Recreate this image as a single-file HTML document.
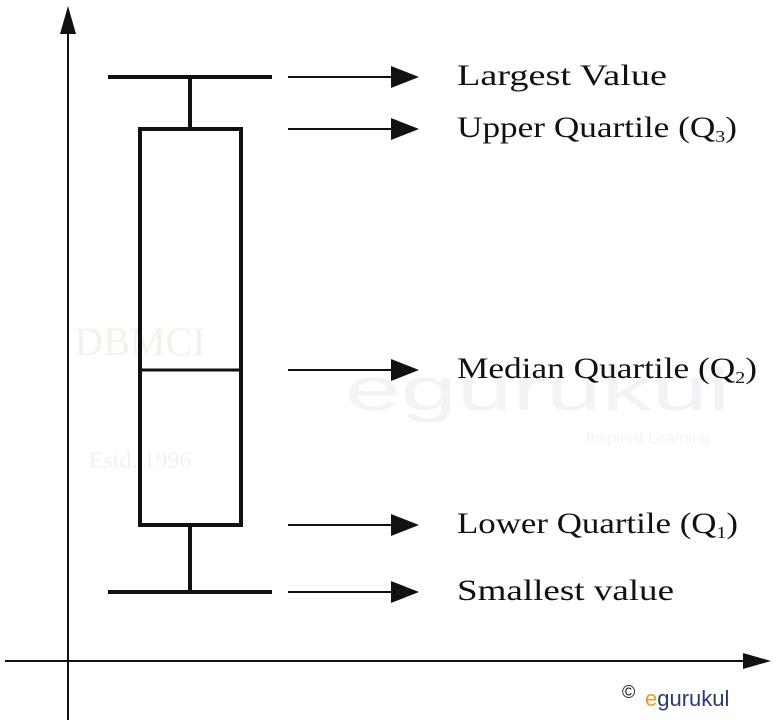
<!DOCTYPE html>
<html><head><meta charset="utf-8"><style>
html,body{margin:0;padding:0;background:#fff;}
svg{display:block;}
text{font-family:"Liberation Serif",serif;fill:#111;}
</style></head><body>
<svg id="chart" width="780" height="720" viewBox="0 0 780 720" xmlns="http://www.w3.org/2000/svg">
<g opacity="0.1">
<text x="140" y="355" font-size="40" text-anchor="middle" style="fill:#a08030">DBMCI</text>
<text x="140" y="468" font-size="24" text-anchor="middle" style="fill:#a08030">Estd. 1996</text>
<text x="345" y="410" font-size="60" textLength="385" lengthAdjust="spacingAndGlyphs" style="font-family:'Liberation Sans',sans-serif;fill:#8090b0">egurukul</text>
<text x="648" y="443" font-size="16" text-anchor="middle" style="font-family:'Liberation Sans',sans-serif;fill:#8090b0">Inspired Learning</text>
</g>
<g id="axes">
<line x1="68" y1="720" x2="68" y2="12" stroke="#111" stroke-width="2"/>
<path d="M68,6 L60,34 L76,34 z" fill="#111"/>
<line x1="5" y1="661" x2="755" y2="661" stroke="#111" stroke-width="2"/>
<path d="M771,661 L743,653 L743,669 z" fill="#111"/>
</g>
<g id="plot"></g>
<g>
<text x="622" y="698" font-size="18" style="font-family:'Liberation Sans',sans-serif">©</text>
<text x="645" y="706" font-size="22" style="font-family:'Liberation Sans',sans-serif;fill:#2a3a7a"><tspan style="fill:#e8a020">e</tspan>gurukul</text>
</g>
</svg>
<script>
const statNames = ["min","q1","median","q3","max"];
const statValues = [69, 136, 291, 532, 584];
const labels = ["Smallest value","Lower Quartile (Q","Median Quartile (Q","Upper Quartile (Q","Largest Value"];
const subs = ["","1","2","3",""];
const labelWidths = [217, 281, 300, 280, 210];
const yScale = v => 661 - v;
const NS = "http://www.w3.org/2000/svg";
const g = document.getElementById("plot");
function mk(tag, attrs){const e=document.createElementNS(NS,tag);for(const k in attrs)e.setAttribute(k,attrs[k]);g.appendChild(e);return e;}
const ymin=yScale(statValues[0]), yq1=yScale(statValues[1]), ymed=yScale(statValues[2]), yq3=yScale(statValues[3]), ymax=yScale(statValues[4]);
let e;
e=mk("line",{x1:190,y1:ymax,x2:190,y2:yq3,stroke:"#111","stroke-width":4});


e=mk("line",{x1:190,y1:yq1,x2:190,y2:ymin,stroke:"#111","stroke-width":4});


e=mk("line",{x1:108,y1:ymax,x2:272,y2:ymax,stroke:"#111","stroke-width":4});


e=mk("line",{x1:108,y1:ymin,x2:272,y2:ymin,stroke:"#111","stroke-width":4});


e=mk("rect",{x:140,y:yq3,width:101,height:yq1-yq3,fill:"none",stroke:"#111","stroke-width":4});


e=mk("line",{x1:140,y1:ymed,x2:241,y2:ymed,stroke:"#111","stroke-width":3});


statValues.forEach((v,i)=>{
  const y=yScale(v);
  const a=mk("line",{x1:288,y1:y,x2:395,y2:y,stroke:"#111","stroke-width":2});
  
  
  const h=mk("path",{d:`M419,${y} L391,${y-11} L391,${y+11} z`,fill:"#111"});
  
  
  const t=mk("text",{x:457,y:y+8,"font-size":30,textLength:labelWidths[i],lengthAdjust:"spacingAndGlyphs"});
  
  
  if(subs[i]){
    t.innerHTML=labels[i]+'<tspan font-size="17" dy="5">'+subs[i]+'</tspan><tspan dy="-5">)</tspan>';
  } else t.textContent=labels[i];
});
</script>
</body></html>
